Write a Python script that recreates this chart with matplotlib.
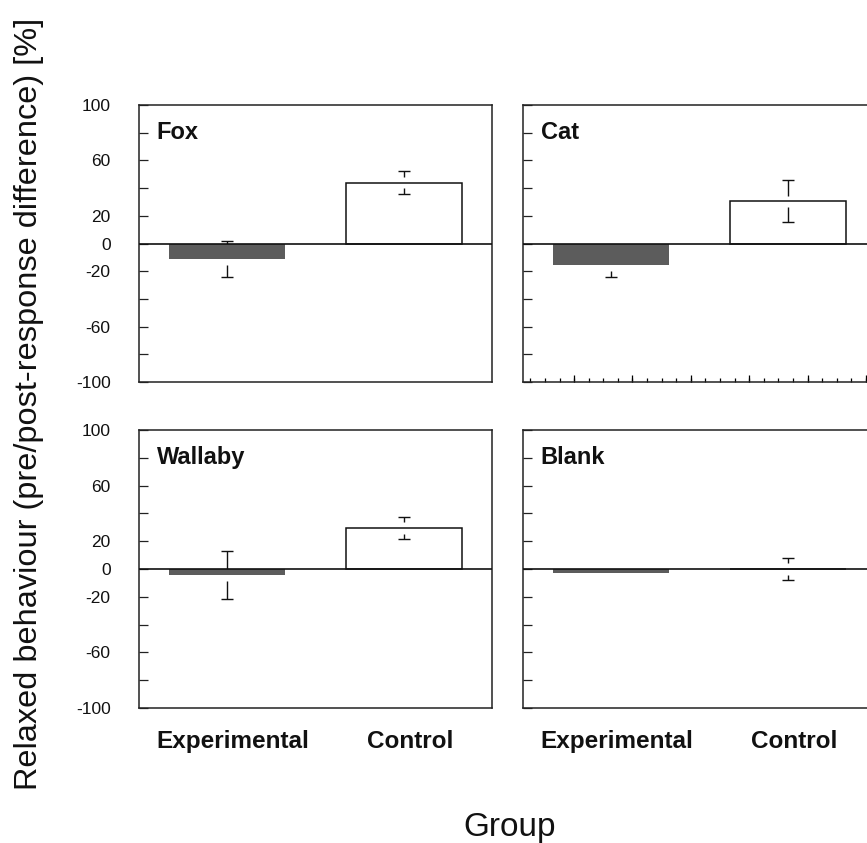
import numpy as np
import matplotlib
matplotlib.use("Agg")
import matplotlib.pyplot as plt
from matplotlib.transforms import ScaledTranslation

# ---- data ----
panels = ["Fox", "Cat", "Wallaby", "Blank"]
groups = ["Experimental", "Control"]
exp_means = [-11.5, -15.5, -4.3, -3.0]
exp_errs = [13.0, 9.0, 17.4, 0.0]
ctrl_means = [44.0, 30.5, 29.5, 0.0]
ctrl_errs = [8.0, 15.0, 7.6, 7.7]
yticks_major = [-100, -60, -20, 0, 20, 60, 100]
yticks_all = [-100, -80, -60, -40, -20, 0, 20, 40, 60, 80, 100]

plt.rcParams['font.family'] = ['Liberation Sans', 'DejaVu Sans']
TXT = '#111111'
GRAY = '#5c5c5c'

W, H = 867, 843
fig = plt.figure(figsize=(W / 100, H / 100), dpi=100)

# axes rectangles in pixel coords (left, top, right, bottom)
rects = [
    (139, 105, 492, 382),
    (523, 105, 876, 382),
    (139, 430, 492, 708),
    (523, 430, 876, 708),
]

gap = 4.0
bar_w = 0.66
x = np.arange(len(groups))

for i, name in enumerate(panels):
    l, t, r, b = rects[i]
    ax = fig.add_axes([l / W, 1 - b / H, (r - l) / W, (b - t) / H])
    ax.set_xlim(-0.5, 1.5)
    ax.set_ylim(-100, 100)
    for sp in ax.spines.values():
        sp.set_linewidth(1.1)
        sp.set_color('#222222')

    means = [exp_means[i], ctrl_means[i]]
    errs = [exp_errs[i], ctrl_errs[i]]

    # bars
    ax.bar(x[0], means[0], width=bar_w, color=GRAY, edgecolor='none', zorder=3)
    ax.bar(x[1], means[1], width=bar_w, color='white', edgecolor='#111111',
           linewidth=1.1, zorder=1)

    # error bars with a gap around the mean
    for xi, m, e in zip(x, means, errs):
        if e > gap:
            ax.vlines([xi, xi], [m + gap, m - e], [m + e, m - gap],
                      color='#111111', linewidth=1.0, zorder=2)
            ax.plot([xi, xi], [m + e, m - e], linestyle='none', marker='_',
                    markersize=8.6, markeredgewidth=1.0, color='#111111',
                    zorder=2)

    ax.axhline(0, color='#111111', linewidth=1.2, zorder=4)

    ax.text(0.05, 0.90, name, transform=ax.transAxes, fontsize=17,
            fontweight='bold', ha='left', va='center', color=TXT)

    # y ticks
    ax.set_yticks(yticks_all)
    ax.tick_params(axis='y', direction='in', length=6.5, width=0.9,
                   pad=20.5, labelsize=12.5, colors='#222222', labelcolor=TXT)
    if i in (0, 2):
        ax.set_yticklabels([str(v) if v in yticks_major else '' for v in yticks_all])
    else:
        ax.set_yticklabels([])

    # x ticks
    if i in (2, 3):
        ax.set_xticks(x)
        ax.set_xticklabels(groups, fontsize=17.5, fontweight='bold', color=TXT)
        ax.tick_params(axis='x', length=0, pad=16)
        for lab in ax.get_xticklabels():
            lab.set_transform(lab.get_transform() +
                              ScaledTranslation(6 / 100, 0, fig.dpi_scale_trans))
    elif i == 1:
        ax.set_xticks(np.arange(-0.211, 1.5, 0.331))
        ax.set_xticks(np.arange(-0.4586, 1.5, 0.0827), minor=True)
        ax.set_xticklabels([])
        ax.tick_params(axis='x', which='major', direction='in', length=5, width=0.9)
        ax.tick_params(axis='x', which='minor', direction='in', length=3, width=0.9)
    else:
        ax.set_xticks([])

fig.text(29 / W, 1 - 404 / H,
         "Relaxed behaviour (pre/post-response difference) [%]",
         rotation=90, ha='center', va='center', fontsize=23.4, color=TXT)
fig.text(510 / W, 1 - 836 / H, "Group", ha='center', va='baseline',
         fontsize=24, color=TXT)

fig.savefig("out.png", dpi=100)
